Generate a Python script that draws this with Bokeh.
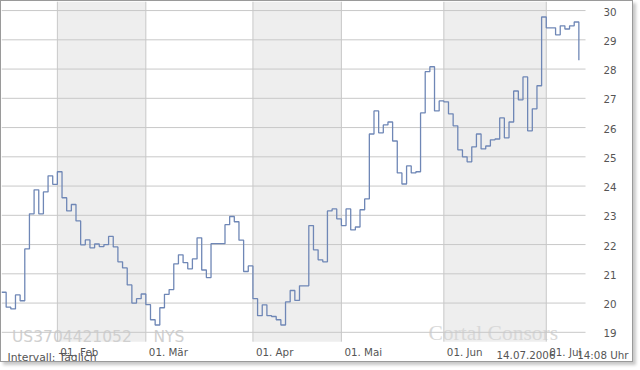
from bokeh.plotting import figure
from bokeh.models import Label, Range1d
from bokeh.core.properties import value
from bokeh.embed import file_html
from bokeh.resources import INLINE

# daily closing prices (trading day index 0 .. 124), Jan - 14 Jul 2006
prices = [
    20.37, 19.86, 19.80, 20.28, 20.08, 21.85, 23.05, 23.87, 23.05, 23.80,
    24.35, 24.06, 24.49, 23.60, 23.15, 23.37, 22.81, 21.99, 22.16, 21.89,
    22.02, 21.93, 22.00, 22.28, 21.92, 21.41, 21.20, 20.62, 20.00, 20.15,
    20.31, 19.95, 19.43, 19.25, 19.84, 20.30, 20.46, 21.34, 21.65, 21.38,
    21.17, 21.51, 22.23, 21.13, 20.87, 22.03, 22.03, 22.03, 22.68, 22.96,
    22.78, 22.15, 21.08, 21.27, 20.15, 19.57, 19.94, 19.57, 19.54, 19.43,
    19.25, 20.04, 20.43, 20.09, 20.59, 20.59, 22.65, 21.82, 21.48, 21.41,
    23.15, 23.22, 22.88, 22.65, 23.22, 22.50, 22.60, 23.19, 23.56, 25.78,
    26.57, 25.82, 26.09, 26.19, 25.54, 24.45, 24.07, 24.69, 24.45, 24.49,
    26.50, 27.91, 28.08, 26.57, 26.91, 26.88, 26.47, 26.06, 25.24, 25.00,
    24.83, 25.34, 25.78, 25.27, 25.37, 25.58, 25.61, 26.33, 25.65, 26.19,
    27.25, 26.95, 27.73, 25.89, 26.64, 27.43, 29.78, 29.41, 29.41, 29.17,
    29.48, 29.37, 29.48, 29.61, 28.30,
]
day_index = list(range(len(prices)))

month_index = [12, 31, 54, 73, 95, 117]
month_labels = ["01. Feb", "01. Mär", "01. Apr", "01. Mai", "01. Jun", "01. Jul"]
band_start = [12, 54, 95]
band_end = [31, 73, 117]
y_ticks = list(range(19, 31))
y_tick_labels = [str(t) for t in y_ticks]

isin_text = "US3704421052"
exchange_text = "NYS"
interval_text = "Intervall: Täglich"
date_text = "14.07.2006"
time_text = "14:08 Uhr"
brand_text = "Cortal Consors"

FONT = "DejaVu Sans"
LABEL_COLOR = "#555555"
GRID_COLOR = "#c8c8c8"

# plot area limits (data units)
X_LEFT, X_RIGHT = 0, 125.43
Y_BOTTOM, Y_TOP = 18.68, 30.31

p = figure(width=633, height=362,
           x_range=Range1d(X_LEFT, 135.95), y_range=Range1d(17.934, Y_TOP),
           output_backend="svg", toolbar_location=None,
           x_axis_location=None, y_axis_location=None,
           min_border=0)
p.styles = {"border": "1px solid #9a9a9a",
            "box-shadow": "3px 3px 3px rgba(0,0,0,0.22)"}
p.outline_line_color = None
p.background_fill_color = "white"
p.border_fill_color = "white"
p.xgrid.visible = False
p.ygrid.visible = False

# alternating month shading (lowest layer)
bands = p.quad(left=band_start, right=band_end, bottom=Y_BOTTOM, top=Y_TOP,
               fill_color="#eeeeee", line_color=None)
bands.level = "image"

# watermarks (above shading, below grid and line)
for txt, xs, ys, size, font, color in [
    (isin_text, 10.5, 27, "15.5px", FONT, "#d0d0d0"),
    (exchange_text, 152, 27, "15.5px", FONT, "#d0d0d0"),
    (brand_text, 427, 31, "21.5px", "Liberation Serif", "#d8d8d8"),
]:
    lab = Label(x=xs, y=ys, x_units="screen", y_units="screen", text=txt,
                text_font=font, text_font_size=size, text_color=color,
                text_baseline="alphabetic", text_align="left")
    lab.level = "underlay"
    p.add_layout(lab)

# grid lines limited to the plot area
p.segment(x0=X_LEFT, x1=X_RIGHT, y0=y_ticks, y1=y_ticks,
          line_color=GRID_COLOR, line_width=1)
p.segment(x0=month_index, x1=month_index, y0=Y_BOTTOM, y1=Y_TOP,
          line_color=GRID_COLOR, line_width=1)

# price line
p.step(day_index, prices, mode="after", line_color="#6f87b6", line_width=1.3)

# y tick labels (right side)
p.text(x=[X_RIGHT] * len(y_ticks), y=y_ticks, text=y_tick_labels,
       x_offset=18, y_offset=1, text_font=value(FONT), text_font_size="10.3px",
       text_color=LABEL_COLOR, text_align="left", text_baseline="middle")

# footer line (interval), drawn below the month labels
p.text(x=[X_LEFT], y=[Y_BOTTOM], text=[interval_text],
       x_offset=6, y_offset=16, text_font=value(FONT), text_font_size="10.8px",
       text_color=LABEL_COLOR, text_align="left", text_baseline="alphabetic")

# month labels
p.text(x=month_index, y=[Y_BOTTOM] * len(month_index), text=month_labels,
       x_offset=3, y_offset=10, text_font=value(FONT), text_font_size="10.3px",
       text_color=LABEL_COLOR, text_align="left", text_baseline="alphabetic")

# footer: date and time
p.add_layout(Label(x=495, y=9, x_units="screen", y_units="screen",
                   text=date_text, text_font=FONT, text_font_size="10.3px",
                   text_color=LABEL_COLOR, text_baseline="alphabetic"))
p.add_layout(Label(x=627, y=9, x_units="screen", y_units="screen",
                   text=time_text, text_font=FONT, text_font_size="10.3px",
                   text_color=LABEL_COLOR, text_baseline="alphabetic",
                   text_align="right"))

open("out.html", "w").write(file_html(p, INLINE))
